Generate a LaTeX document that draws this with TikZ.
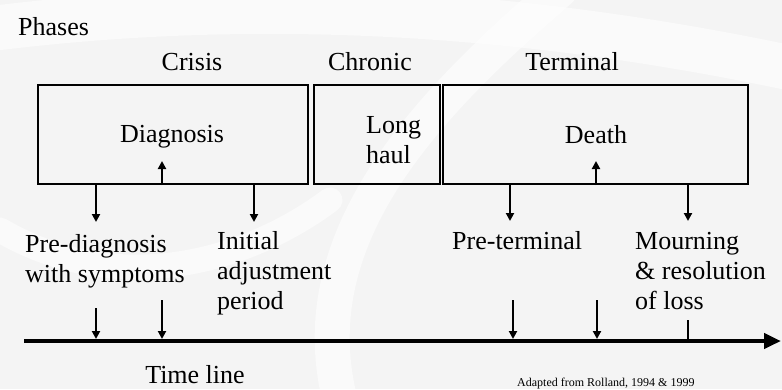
\documentclass[tikz,border=0pt]{standalone}
\usepackage{fontspec}
\setmainfont{Liberation Serif}
\usetikzlibrary{arrows.meta}

\tikzset{
  phasebox/.style={draw, line width=2pt},
  lbl/.style={font=\fontsize{26}{30}\selectfont, inner sep=0pt},
  tip/.style={line width=2pt, -{Triangle[width=8pt,length=8pt]}},
  band/.style={white, opacity=.55, line cap=round},
}

\begin{document}
\begin{tikzpicture}[x=1pt,y=-1pt]
  % Background
  \fill[gray!9] (0,0) rectangle (782,389);
  \useasboundingbox (0,0) rectangle (782,389);
  \draw[band, line width=45pt] (-20,30) .. controls (250,-5) and (520,10) .. (800,70);
  \draw[band, line width=35pt] (560,-10) .. controls (420,110) and (300,240) .. (340,400);
  \draw[band, line width=25pt] (0,230) .. controls (120,300) and (250,260) .. (330,200);

  % Phases
  \node[lbl, anchor=base west] (phases) at (18,35) {Phases};
  \node[lbl, anchor=base] (crisis) at (192,70) {Crisis};
  \node[lbl, anchor=base] (chronic) at (370,70) {Chronic};
  \node[lbl, anchor=base] (terminal) at (572,70) {Terminal};

  % Boxes
  \node[phasebox, minimum width=270pt, minimum height=99pt] (crisisbox) at (173,134.5) {};
  \node[phasebox, minimum width=126pt, minimum height=99pt] (chronicbox) at (377,134.5) {};
  \node[phasebox, minimum width=305pt, minimum height=99pt] (terminalbox) at (595.5,134.5) {};
  \node[lbl, anchor=base] (diagnosis) at (172,142) {Diagnosis};
  \node[lbl, anchor=base west, align=left] (longhaul) at (366,163) {Long\\haul};
  \node[lbl, anchor=base] (death) at (596,143) {Death};

  % Events (base = last line)
  \node[lbl, anchor=base west, align=left] (prediag) at (25,282) {Pre-diagnosis\\with symptoms};
  \node[lbl, anchor=base west, align=left] (initial) at (217,309) {Initial\\adjustment\\period};
  \node[lbl, anchor=base west] (preterm) at (452,249) {Pre-terminal};
  \node[lbl, anchor=base west, align=left] (mourning) at (635,309) {Mourning\\\& resolution\\of loss};

  % Arrows from the boxes
  \coordinate (crisisup) at (162,161);
  \coordinate (deathup) at (596,161);
  \coordinate (prediagin) at (96,222);
  \coordinate (initialin) at (254,222);
  \coordinate (pretermin) at (510,221);
  \coordinate (mourningin) at (688,221);
  \draw[tip] (crisisbox.south -| crisisup) -- (crisisup);
  \draw[tip] (terminalbox.south -| deathup) -- (deathup);
  \draw[tip] (crisisbox.south -| prediagin) -- (prediagin);
  \draw[tip] (crisisbox.south -| initialin) -- (initialin);
  \draw[tip] (terminalbox.south -| pretermin) -- (pretermin);
  \draw[tip] (terminalbox.south -| mourningin) -- (mourningin);

  % Time line
  \coordinate (tlstart) at (24,341);
  \coordinate (tlend) at (781,341);
  \draw[line width=4.5pt, -{Triangle[width=15pt,length=17pt]}] (tlstart) -- (tlend);
  \coordinate (tla) at (96,308);
  \coordinate (tlb) at (162,300);
  \coordinate (tlc) at (513,300);
  \coordinate (tld) at (597,300);
  \coordinate (tle) at (688,320);
  \foreach \p in {tla,tlb,tlc,tld}
    \draw[tip, shorten >=2pt] (\p) -- (\p |- tlstart);
  \draw[line width=2pt] (tle) -- (tle |- tlstart);

  \node[lbl, anchor=base] (timelabel) at (195,383) {Time line};
  \node[font=\fontsize{12}{14}\selectfont, anchor=base west, inner sep=0pt] (source) at (517,386) {Adapted from Rolland, 1994 \& 1999};
\end{tikzpicture}
\end{document}
